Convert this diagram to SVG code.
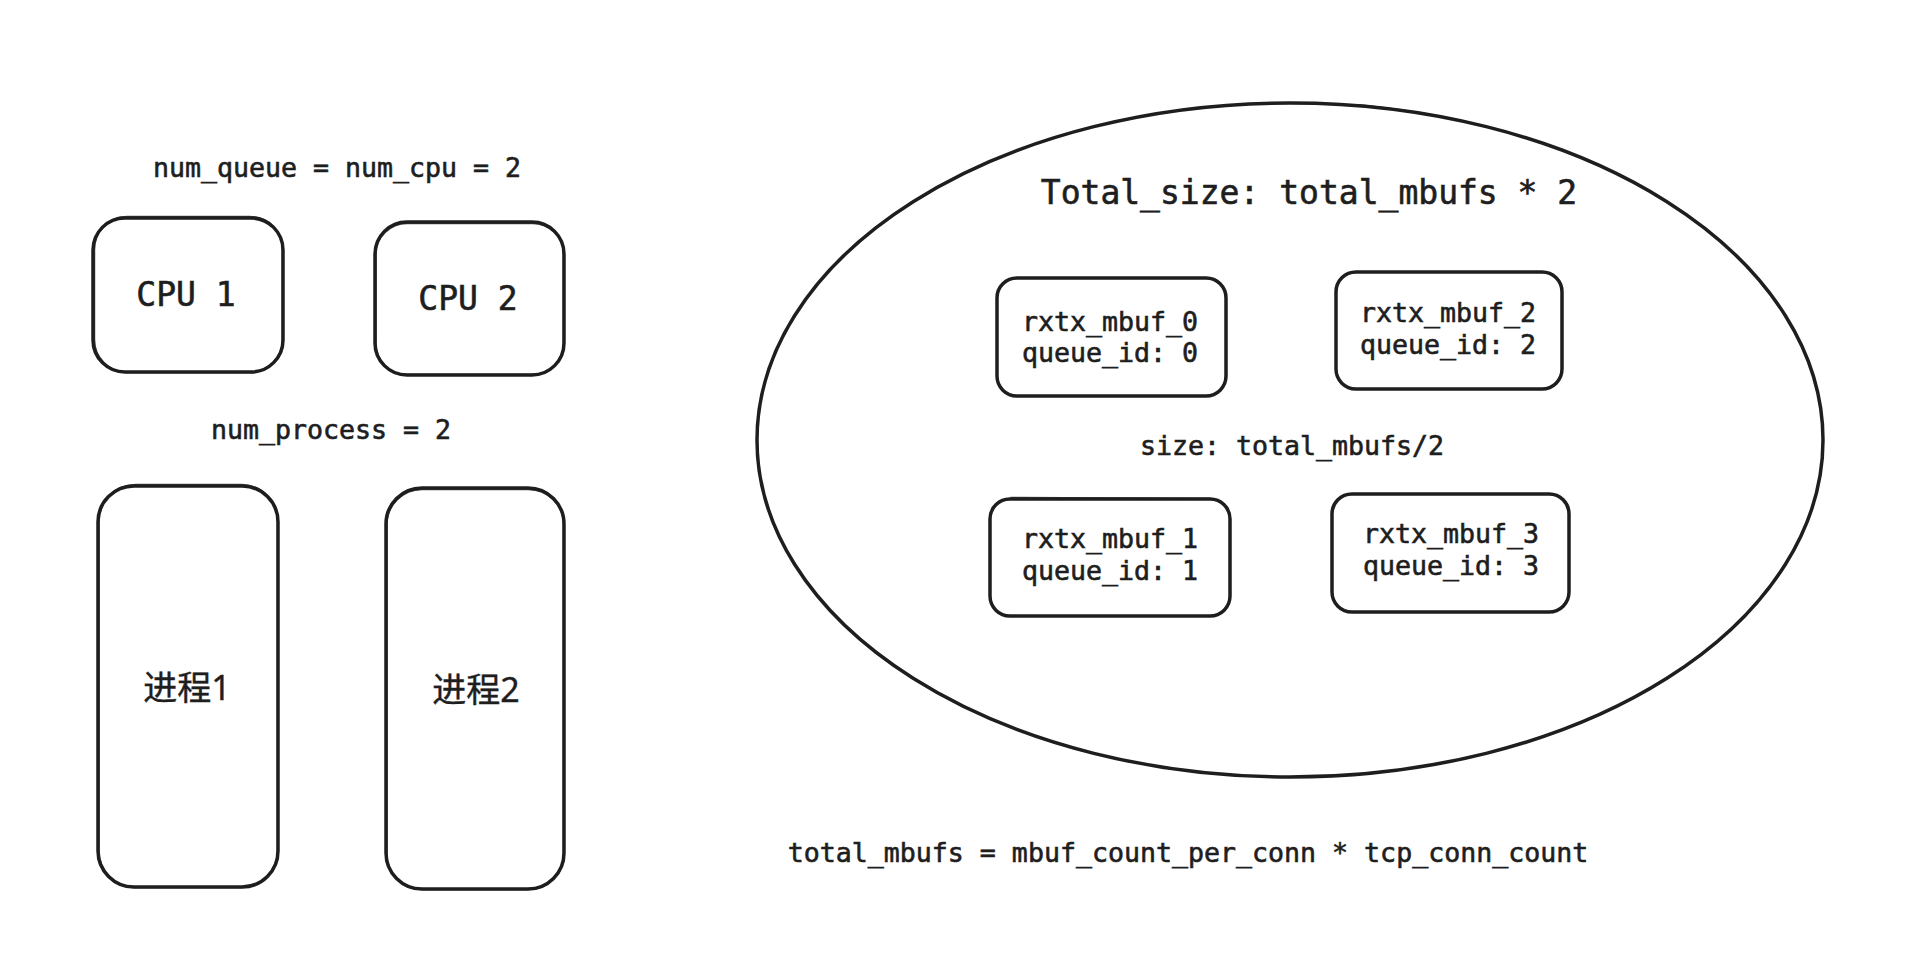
<svg xmlns="http://www.w3.org/2000/svg" width="1914" height="960" viewBox="0 0 1914 960">
<style>
.shape{fill:none;stroke:#1e1e1e;stroke-width:3.5;stroke-linecap:round;stroke-linejoin:round}
.sk{fill:none;stroke:#1e1e1e;stroke-width:1.5;stroke-linecap:round;opacity:0.8}
.t{font-family:"DejaVu Sans Mono","Liberation Mono",monospace;fill:#1e1e1e;stroke:#1e1e1e;stroke-width:0.6;text-anchor:middle;dominant-baseline:central}
.s26{font-size:26.6px}
.s32{font-size:33px}
.cjk{font-family:"Noto Sans","Noto Sans CJK SC",sans-serif;font-size:34px;fill:#1e1e1e;stroke:#1e1e1e;stroke-width:0.4;text-anchor:middle;dominant-baseline:central}
</style>
<rect width="1914" height="960" fill="#ffffff"/>
<g id="label-num-queue"><text class="t s26" x="337" y="167">num_queue = num_cpu = 2</text></g>
<g id="cpu1">
<rect class="shape" x="93" y="218" width="190" height="154" rx="32"/>
<rect class="sk" x="94.5" y="216.5" width="188" height="156" rx="33"/>
<text class="t s32" x="186" y="294">CPU 1</text>
</g>
<g id="cpu2">
<rect class="shape" x="375" y="222" width="189" height="153" rx="32"/>
<rect class="sk" x="376" y="223.5" width="187.5" height="151" rx="31"/>
<text class="t s32" x="468" y="298">CPU 2</text>
</g>
<g id="label-num-process"><text class="t s26" x="331" y="429">num_process = 2</text></g>
<g id="process1">
<rect class="shape" x="98" y="486" width="180" height="401" rx="36"/>
<rect class="sk" x="99" y="484.5" width="178.5" height="403" rx="37"/>
<text class="cjk" x="187" y="687">进程1</text>
</g>
<g id="process2">
<rect class="shape" x="386" y="488" width="178" height="401" rx="36"/>
<rect class="sk" x="387" y="489.5" width="176.5" height="400" rx="35"/>
<text class="cjk" x="476" y="689">进程2</text>
</g>
<g id="mempool">
<ellipse class="shape" cx="1290" cy="440" rx="533" ry="337"/>
<path class="sk" d="M1360 105 Q1445 113 1520 136"/>
<text class="t s32" x="1309" y="192">Total_size: total_mbufs * 2</text>
</g>
<g id="rxtx_mbuf_0">
<rect class="shape" x="997" y="278" width="229" height="118" rx="20"/>
<text class="t s26" x="1110" y="321">rxtx_mbuf_0</text>
<text class="t s26" x="1110" y="352">queue_id: 0</text>
</g>
<g id="rxtx_mbuf_2">
<rect class="shape" x="1336" y="272" width="226" height="117" rx="20"/>
<text class="t s26" x="1448" y="312">rxtx_mbuf_2</text>
<text class="t s26" x="1448" y="344">queue_id: 2</text>
</g>
<g id="label-size"><text class="t s26" x="1292" y="445">size: total_mbufs/2</text></g>
<g id="rxtx_mbuf_1">
<rect class="shape" x="990" y="499" width="240" height="117" rx="20"/>
<path class="sk" d="M1011 497.5 L1211 498.5"/>
<text class="t s26" x="1110" y="538">rxtx_mbuf_1</text>
<text class="t s26" x="1110" y="570">queue_id: 1</text>
</g>
<g id="rxtx_mbuf_3">
<rect class="shape" x="1332" y="494" width="237" height="118" rx="20"/>
<text class="t s26" x="1451" y="533">rxtx_mbuf_3</text>
<text class="t s26" x="1451" y="565">queue_id: 3</text>
</g>
<g id="label-total-mbufs"><text class="t s26" x="1188" y="852">total_mbufs = mbuf_count_per_conn * tcp_conn_count</text></g>
<g id="connectors"></g>
</svg>
